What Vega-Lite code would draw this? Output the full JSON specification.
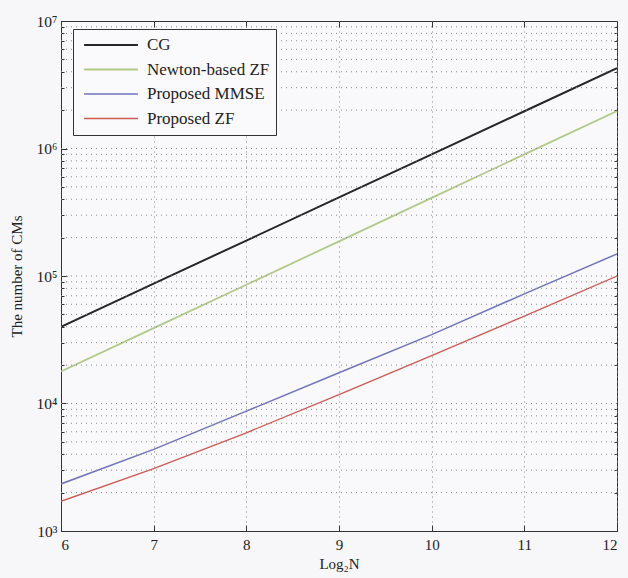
{
  "$schema": "https://vega.github.io/schema/vega-lite/v6.json",
  "width": 556,
  "height": 510,
  "autosize": {"type": "none"},
  "padding": {"left": 61, "top": 21, "right": 11, "bottom": 47},
  "background": "#f7f7f9",
  "config": {
    "font": "Liberation Serif",
    "view": {"stroke": "#333333", "strokeWidth": 1, "fill": "#f9f9fb"},
    "axis": {
      "labelFont": "Liberation Serif",
      "titleFont": "Liberation Serif",
      "labelColor": "#222222",
      "titleColor": "#222222",
      "titleFontWeight": "normal",
      "domainColor": "#333333",
      "tickColor": "#333333"
    }
  },
  "data": {
    "values": [
      {"method": "CG", "n": 6, "cms": 40000},
      {"method": "CG", "n": 7, "cms": 87100},
      {"method": "CG", "n": 8, "cms": 189700},
      {"method": "CG", "n": 9, "cms": 413000},
      {"method": "CG", "n": 10, "cms": 899500},
      {"method": "CG", "n": 11, "cms": 1960000},
      {"method": "CG", "n": 12, "cms": 4270000},
      {"method": "Newton-based ZF", "n": 6, "cms": 17800},
      {"method": "Newton-based ZF", "n": 7, "cms": 39000},
      {"method": "Newton-based ZF", "n": 8, "cms": 85300},
      {"method": "Newton-based ZF", "n": 9, "cms": 187000},
      {"method": "Newton-based ZF", "n": 10, "cms": 410000},
      {"method": "Newton-based ZF", "n": 11, "cms": 899000},
      {"method": "Newton-based ZF", "n": 12, "cms": 1970000},
      {"method": "Proposed MMSE", "n": 6, "cms": 2340},
      {"method": "Proposed MMSE", "n": 7, "cms": 4365},
      {"method": "Proposed MMSE", "n": 8, "cms": 8710},
      {"method": "Proposed MMSE", "n": 9, "cms": 17400},
      {"method": "Proposed MMSE", "n": 10, "cms": 34700},
      {"method": "Proposed MMSE", "n": 11, "cms": 72400},
      {"method": "Proposed MMSE", "n": 12, "cms": 149000},
      {"method": "Proposed ZF", "n": 6, "cms": 1710},
      {"method": "Proposed ZF", "n": 7, "cms": 3090},
      {"method": "Proposed ZF", "n": 8, "cms": 5890},
      {"method": "Proposed ZF", "n": 9, "cms": 11750},
      {"method": "Proposed ZF", "n": 10, "cms": 23700},
      {"method": "Proposed ZF", "n": 11, "cms": 48500},
      {"method": "Proposed ZF", "n": 12, "cms": 100000}
    ]
  },
  "layer": [
    {
      "mark": {"type": "line", "clip": true},
      "encoding": {
        "x": {
          "field": "n", "type": "quantitative",
          "scale": {"domain": [6, 12], "nice": false},
          "axis": {
            "title": "Log₂N", "values": [6, 7, 8, 9, 10, 11, 12],
            "format": "d", "grid": true, "gridDash": [1, 4], "gridColor": "#888888",
            "tickSize": -6, "labelPadding": 12, "labelFontSize": 15,
            "titleFontSize": 15, "titlePadding": 4, "domain": true
          }
        },
        "y": {
          "field": "cms", "type": "quantitative",
          "scale": {"type": "log", "domain": [1000, 10000000], "nice": false},
          "axis": {
            "title": "The number of CMs",
            "values": [1000, 10000, 100000, 1000000, 10000000],
            "labelExpr": "datum.value == 1000 ? '10³' : datum.value == 10000 ? '10⁴' : datum.value == 100000 ? '10⁵' : datum.value == 1000000 ? '10⁶' : '10⁷'",
            "grid": false, "tickSize": -6, "labelPadding": 10,
            "labelFontSize": 15.5, "titleFontSize": 15, "titlePadding": 12
          }
        },
        "color": {
          "field": "method", "type": "nominal",
          "scale": {
            "domain": ["CG", "Newton-based ZF", "Proposed MMSE", "Proposed ZF"],
            "range": ["#262626", "#b3c98a", "#7175b8", "#cc5a52"]
          },
          "legend": {
            "title": null, "orient": "none", "legendX": 12, "legendY": 8,
            "symbolType": "stroke", "symbolSize": 2900, "symbolStrokeWidth": 1.5,
            "labelFont": "Liberation Serif", "labelFontSize": 17, "labelColor": "#222222",
            "labelExpr": "datum.label + '\u2003\u2003\u2003'",
            "strokeColor": "#333333", "fillColor": "#fafafc", "padding": 6,
            "clipHeight": 20, "rowPadding": 4.5, "labelOffset": 8, "symbolOffset": 4
          }
        },
        "strokeWidth": {
          "field": "method", "type": "nominal",
          "scale": {
            "domain": ["CG", "Newton-based ZF", "Proposed MMSE", "Proposed ZF"],
            "range": [2, 1.3, 1.3, 1.3]
          },
          "legend": null
        }
      }
    },
    {
      "mark": {"type": "rule", "strokeDash": [1, 4], "color": "#888888", "strokeWidth": 1},
      "data": {"values": [
        {"g": 2000}, {"g": 3000}, {"g": 4000}, {"g": 5000}, {"g": 6000}, {"g": 7000}, {"g": 8000}, {"g": 9000},
        {"g": 10000}, {"g": 20000}, {"g": 30000}, {"g": 40000}, {"g": 50000}, {"g": 60000}, {"g": 70000}, {"g": 80000}, {"g": 90000},
        {"g": 100000}, {"g": 200000}, {"g": 300000}, {"g": 400000}, {"g": 500000}, {"g": 600000}, {"g": 700000}, {"g": 800000}, {"g": 900000},
        {"g": 1000000}, {"g": 2000000}, {"g": 3000000}, {"g": 4000000}, {"g": 5000000}, {"g": 6000000}, {"g": 7000000}, {"g": 8000000}, {"g": 9000000}
      ]},
      "encoding": {
        "y": {
          "field": "g", "type": "quantitative",
          "axis": {
            "orient": "right", "title": null, "labels": false, "domain": false,
            "values": [2000, 3000, 4000, 5000, 6000, 7000, 8000, 9000,
                       20000, 30000, 40000, 50000, 60000, 70000, 80000, 90000,
                       200000, 300000, 400000, 500000, 600000, 700000, 800000, 900000,
                       2000000, 3000000, 4000000, 5000000, 6000000, 7000000, 8000000, 9000000],
            "tickSize": -3, "grid": false
          }
        }
      }
    },
    {
      "mark": {"type": "point", "opacity": 0},
      "data": {"values": [{"n": 6, "cms": 1000}, {"n": 12, "cms": 10000000}]},
      "encoding": {
        "x": {
          "field": "n", "type": "quantitative",
          "axis": {"orient": "top", "title": null, "labels": false, "domain": false,
                   "values": [6, 7, 8, 9, 10, 11, 12], "tickSize": -6, "grid": false}
        },
        "y": {
          "field": "cms", "type": "quantitative",
          "axis": {"orient": "left", "title": null, "labels": false, "domain": false,
                   "values": [2000, 3000, 4000, 5000, 6000, 7000, 8000, 9000,
                       20000, 30000, 40000, 50000, 60000, 70000, 80000, 90000,
                       200000, 300000, 400000, 500000, 600000, 700000, 800000, 900000,
                       2000000, 3000000, 4000000, 5000000, 6000000, 7000000, 8000000, 9000000],
                   "tickSize": -3, "grid": false}
        }
      }
    }
  ],
  "resolve": {"axis": {"x": "independent", "y": "independent"}}
}
